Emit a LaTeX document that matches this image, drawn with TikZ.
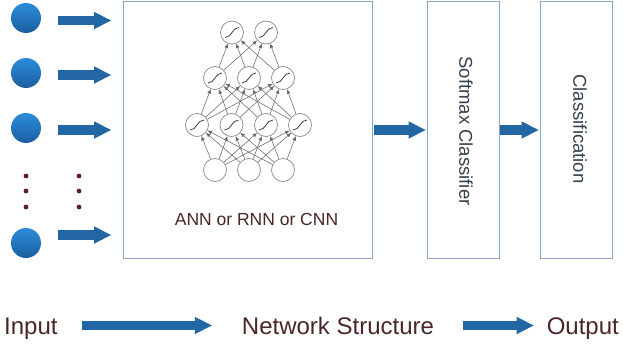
\documentclass[tikz,border=0pt]{standalone}
\usepackage{fontspec}
\setmainfont{Liberation Sans}
\usetikzlibrary{arrows.meta}
\definecolor{arrowblue}{HTML}{2267A4}
\definecolor{ballTop}{HTML}{2C8CDA}
\definecolor{ballBot}{HTML}{1B5E9F}
\definecolor{boxline}{HTML}{8AA6C4}
\definecolor{maroontext}{HTML}{4A2626}
\definecolor{boxtext}{HTML}{33404E}
\definecolor{dotc}{HTML}{5B1F1F}
\definecolor{nnline}{HTML}{6A6A6A}
\definecolor{nncirc}{HTML}{8A8A8A}
\newcommand\sigmark[1]{\draw[sigline] ([shift={(-7,5)}]#1.center) .. controls ([shift={(0,5)}]#1.center) and ([shift={(0,-5)}]#1.center) .. ([shift={(7,-5)}]#1.center);}
\begin{document}
\begin{tikzpicture}[x=1pt,y=-1pt,
  inball/.style={circle, minimum size=30pt, inner sep=0pt, top color=ballTop, bottom color=ballBot, draw=none},
  bigarrow/.style={draw=arrowblue, line width=9.5pt, -{Triangle[length=17pt,width=17.5pt,line width=0pt]}},
  stagebox/.style={draw=boxline, line width=1pt, fill=white, minimum height=256pt, inner sep=0pt},
  boxlabel/.style={rotate=-90, text=boxtext, font=\fontsize{18.5}{20}\selectfont, inner sep=0pt},
  bottomlabel/.style={text=maroontext, font=\fontsize{24}{26}\selectfont, inner sep=0pt, text height=17.2pt, text depth=0pt},
  neuron/.style={circle, draw=nncirc, line width=0.7pt, fill=white, minimum size=23pt, inner sep=0pt},
  nnedge/.style={draw=nnline, line width=0.55pt, -{Latex[length=4.5pt,width=4pt]}},
  sigline/.style={draw=black!75, line width=0.8pt},
  vdot/.style={fill=dotc}]
\useasboundingbox (0,0) rectangle (623,345);
% stage boxes
\node[stagebox, minimum width=249pt] (nn) at (248,130) {};
\node[stagebox, minimum width=72pt] (sm) at (463,130) {};
\node[stagebox, minimum width=72pt] (cl) at (576,130) {};
\node[boxlabel] (smt) at (466,131) {Softmax Classifier};
\node[boxlabel] (clt) at (580,129) {Classification};
% input balls
\node[inball] (c1) at (26,18) {};
\node[inball] (c2) at (26,73) {};
\node[inball] (c3) at (26,128) {};
\node[inball] (c4) at (26,243) {};
\draw[bigarrow, shorten <=17pt, shorten >=12pt] ([yshift=-2.5pt]c1.east) -- ([yshift=-2.5pt]c1.east -| nn.west);
\draw[bigarrow, shorten <=17pt, shorten >=12pt] ([yshift=-2pt]c2.east) -- ([yshift=-2pt]c2.east -| nn.west);
\draw[bigarrow, shorten <=17pt, shorten >=12pt] ([yshift=-2pt]c3.east) -- ([yshift=-2pt]c3.east -| nn.west);
\draw[bigarrow, shorten <=17pt, shorten >=12pt] ([yshift=8pt]c4.east) -- ([yshift=8pt]c4.east -| nn.west);
% vertical dots
\foreach \yy in {176,191,207} {
  \fill[vdot] (26,\yy) circle (2.4pt);
  \fill[vdot] (79,\yy) circle (2.4pt);
}
% stage arrows
\draw[bigarrow, shorten <=0.5pt, shorten >=1pt] (nn.east) -- (sm.west);
\draw[bigarrow, shorten <=0.5pt, shorten >=1pt] (sm.east) -- (cl.west);
% neural net
\foreach \x [count=\i] in {215,249,283} \node[neuron] (in\i) at (\x,170) {};
\foreach \x [count=\i] in {197,231.5,266,300} \node[neuron] (la\i) at (\x,125) {};
\foreach \x [count=\i] in {215,249,283} \node[neuron] (lb\i) at (\x,78) {};
\foreach \x [count=\i] in {232,266} \node[neuron] (lc\i) at (\x,32.5) {};
\foreach \i in {1,2,3} \foreach \j in {1,2,3,4} \draw[nnedge] (in\i) -- (la\j);
\foreach \i in {1,2,3,4} \foreach \j in {1,2,3} \draw[nnedge] (la\i) -- (lb\j);
\foreach \i in {1,2,3} \foreach \j in {1,2} \draw[nnedge] (lb\i) -- (lc\j);
\foreach \i in {1,2,3,4} {\sigmark{la\i}}
\foreach \i in {1,2,3} {\sigmark{lb\i}}
\foreach \i in {1,2} {\sigmark{lc\i}}
\node[text=maroontext, font=\fontsize{17.5}{20}\selectfont, inner sep=0pt] (annt) at (256.5,219) {ANN or RNN or CNN};
% bottom row
\node[bottomlabel, anchor=west] (inp) at (4,325.5) {Input};
\node[bottomlabel] (ns) at (338,325.5) {Network Structure};
\node[bottomlabel, anchor=east] (outp) at (619,325.5) {Output};
\draw[bigarrow, shorten <=24pt, shorten >=30pt] (inp.east) -- (ns.west);
\draw[bigarrow, shorten <=29pt, shorten >=13pt] (ns.east) -- (outp.west);
\end{tikzpicture}
\end{document}
